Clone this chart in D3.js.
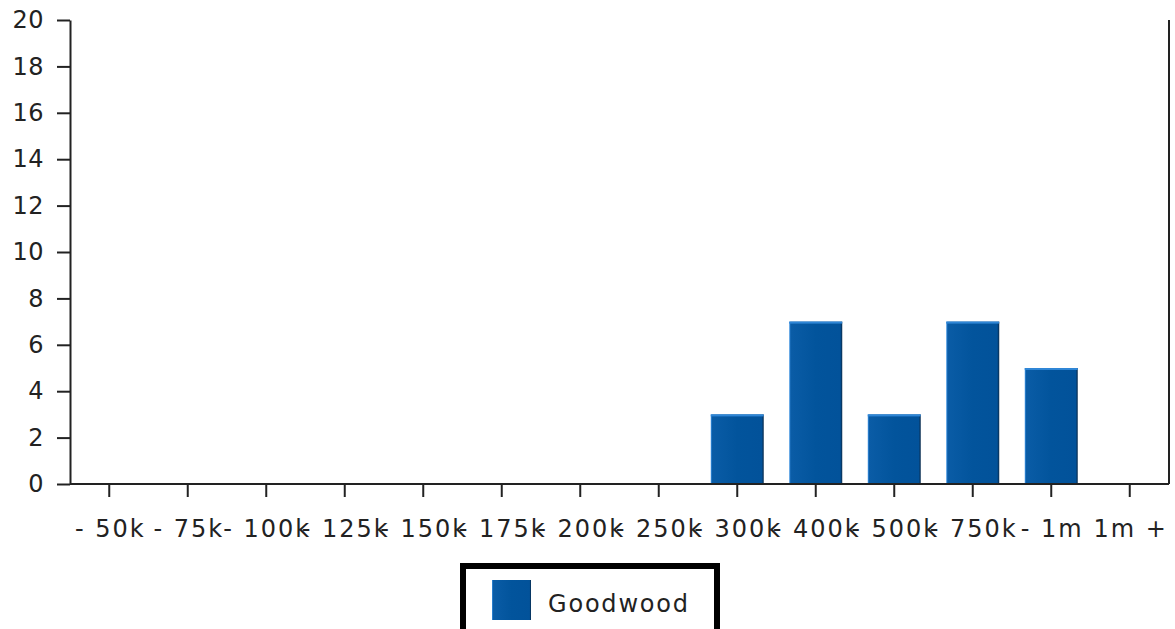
<!DOCTYPE html>
<html>
<head>
<meta charset="utf-8">
<script src="https://cdn.jsdelivr.net/npm/d3@7"></script>
<style>
  html, body { margin: 0; padding: 0; background: #fff; }
  svg { display: block; }
  text { font-family: "DejaVu Sans", Verdana, sans-serif; fill: #222; }
</style>
</head>
<body>
<svg id="chart" width="1175" height="629"></svg>
<script>
const categories = ["- 50k", "- 75k", "- 100k", "- 125k", "- 150k", "- 175k", "- 200k", "- 250k", "- 300k", "- 400k", "- 500k", "- 750k", "- 1m", "1m +"];
const goodwood = [0, 0, 0, 0, 0, 0, 0, 0, 3, 7, 3, 7, 5, 0];
const yTicks = [0, 2, 4, 6, 8, 10, 12, 14, 16, 18, 20];
const seriesName = "Goodwood";

(function () {
const svg = d3.select("#chart");
const mLeft = 70, mRight = 1169, mTop = 20, mBottom = 484;
const fontSize = 24;

const x = d3.scaleBand().domain(categories).range([mLeft, mRight]).paddingInner(0.325).paddingOuter(0.1625);
const y = d3.scaleLinear().domain([0, 20]).range([mBottom, mTop]);

const defs = svg.append("defs");
const grad = defs.append("linearGradient").attr("id", "barGrad").attr("x1", 0).attr("x2", 1).attr("y1", 0).attr("y2", 0);
grad.append("stop").attr("offset", "0%").attr("stop-color", "#3f95e6");
grad.append("stop").attr("offset", "3%").attr("stop-color", "#0a5ca6");
grad.append("stop").attr("offset", "50%").attr("stop-color", "#02549c");
grad.append("stop").attr("offset", "96%").attr("stop-color", "#02529a");
grad.append("stop").attr("offset", "100%").attr("stop-color", "#0a2a4a");

const barData = categories.map((c, i) => ({c, v: goodwood[i]})).filter(d => d.v > 0);

svg.append("g").selectAll("rect").data(barData)
  .enter().append("rect")
  .attr("x", d => x(d.c))
  .attr("y", d => y(d.v))
  .attr("width", x.bandwidth())
  .attr("height", d => y(0) - y(d.v))
  .attr("fill", "url(#barGrad)");
svg.append("g").selectAll("rect").data(barData)
  .enter().append("rect")
  .attr("x", d => x(d.c))
  .attr("y", d => y(d.v))
  .attr("width", x.bandwidth())
  .attr("height", 2)
  .attr("fill", "#2f86d6");

// y axis
const yAxis = d3.axisLeft(y).tickValues(yTicks).tickSize(13).tickSizeOuter(0).tickPadding(14);
const gy = svg.append("g").attr("transform", `translate(${mLeft},0)`).call(yAxis);
gy.select(".domain").attr("stroke", "#222").attr("stroke-width", 2);
gy.selectAll(".tick line").attr("stroke", "#222").attr("stroke-width", 2);
gy.selectAll(".tick text").style("font-size", fontSize + "px").style("letter-spacing", "0.5px")
  .style("font-family", "'DejaVu Sans', Verdana, sans-serif").attr("fill", "#222").attr("dx", 1);

// x axis
const xAxis = d3.axisBottom(x).tickSize(13).tickSizeOuter(0).tickPadding(23);
const gx = svg.append("g").attr("transform", `translate(0,${mBottom})`).call(xAxis);
gx.select(".domain").attr("stroke", "#222").attr("stroke-width", 2).attr("d", `M${mLeft},0H${mRight}`);
gx.selectAll(".tick line").attr("stroke", "#222").attr("stroke-width", 2);
gx.selectAll(".tick text").style("font-size", fontSize + "px").style("letter-spacing", "2px")
  .style("font-family", "'DejaVu Sans', Verdana, sans-serif").attr("fill", "#222").attr("dx", 1);

// right border
svg.append("line").attr("x1", mRight).attr("x2", mRight).attr("y1", y(20)).attr("y2", mBottom)
  .attr("stroke", "#222").attr("stroke-width", 2);

// legend
const lg = svg.append("g");
lg.append("rect").attr("x", 463).attr("y", 566).attr("width", 254).attr("height", 80)
  .attr("fill", "#fff").attr("stroke", "#000").attr("stroke-width", 6);
lg.append("rect").attr("x", 492).attr("y", 580).attr("width", 39).attr("height", 40).attr("fill", "url(#barGrad)");
lg.append("text").attr("x", 548).attr("y", 612).text(seriesName)
  .style("font-size", "24px").style("letter-spacing", "1.8px");
})();
</script>
</body>
</html>
